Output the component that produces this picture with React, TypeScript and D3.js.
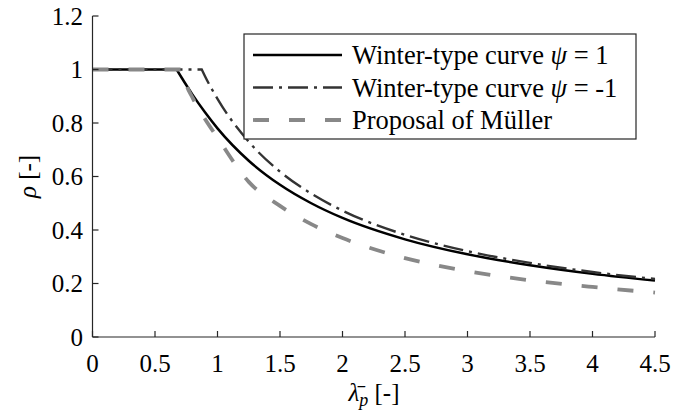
import React from "react";
import * as d3 from "d3";

// ---- data ----
const X_TICKS = [0, 0.5, 1, 1.5, 2, 2.5, 3, 3.5, 4, 4.5];
const X_TICK_LABELS = ["0", "0.5", "1", "1.5", "2", "2.5", "3", "3.5", "4", "4.5"];
const Y_TICKS = [0, 0.2, 0.4, 0.6, 0.8, 1, 1.2];
const Y_TICK_LABELS = ["0", "0.2", "0.4", "0.6", "0.8", "1", "1.2"];

// Winter-type curve psi = 1
const LAMBDA_W1 = [0, 0.673, 0.75, 0.8, 0.9, 1.0, 1.25, 1.5, 1.75, 2.0, 2.5, 3.0, 3.5, 4.0, 4.5];
const RHO_W1 = [1, 1, 0.942, 0.906, 0.84, 0.78, 0.659, 0.569, 0.5, 0.445, 0.365, 0.309, 0.268, 0.236, 0.211];

// Winter-type curve psi = -1
const LAMBDA_W2 = [0, 0.874, 0.9, 1.0, 1.25, 1.5, 1.75, 2.0, 2.5, 3.0, 3.5, 4.0, 4.5];
const RHO_W2 = [1, 1, 0.975, 0.89, 0.73, 0.618, 0.536, 0.4725, 0.382, 0.321, 0.277, 0.243, 0.217];

// Proposal of Müller
const LAMBDA_M = [0, 0.72, 0.75, 0.8, 0.9, 1.0, 1.25, 1.5, 1.75, 2.0, 2.5, 3.0, 3.5, 4.0, 4.5];
const RHO_M = [1, 1, 0.945, 0.895, 0.815, 0.745, 0.58, 0.49, 0.422, 0.37, 0.295, 0.246, 0.212, 0.187, 0.166];

const SERIES_NAMES = ["Winter-type curve ", "Winter-type curve ", "Proposal of Müller"];

const FONT = "'Liberation Serif', Tinos, 'Times New Roman', Times, 'DejaVu Serif', serif";
const AXIS_COLOR = "#262626";

export default function App() {
  const W = 686, H = 414;
  const x = d3.scaleLinear().domain([0, 4.5]).range([92.5, 655]);
  const y = d3.scaleLinear().domain([0, 1.2]).range([337, 16]);

  const makePath = (lx: number[], ry: number[]) => {
    const pts: [number, number][] = lx.map((v, i) => [x(v), y(ry[i])]);
    const gen = d3.line().curve(d3.curveMonotoneX);
    const rest = gen(pts.slice(1)) || "";
    return `M${pts[0][0]},${pts[0][1]}L` + rest.slice(1);
  };

  const series = [
    { d: makePath(LAMBDA_W1, RHO_W1), stroke: "#000", width: 2.5, dash: "none" },
    { d: makePath(LAMBDA_W2, RHO_W2), stroke: "#333", width: 2.4, dash: "20 6 3 6" },
    { d: makePath(LAMBDA_M, RHO_M), stroke: "#888", width: 3.8, dash: "16 20" },
  ];

  const legend = { x: 244, y: 34, w: 392, h: 105 };
  const rowY = [55, 87.5, 120];
  const txt = { fontFamily: FONT };

  return (
    <svg width={W} height={H} style={{ position: "absolute", left: 0, top: 0, background: "#fff", fontFamily: FONT }}>
      <rect x={0} y={0} width={W} height={H} fill="#fff" />
      {/* curves */}
      {series.map((s, i) => (
        <path key={i} d={s.d} fill="none" stroke={s.stroke} strokeWidth={s.width} strokeDasharray={s.dash} />
      ))}
      {/* axes */}
      <line x1={x(0)} x2={x(4.5)} y1={y(0)} y2={y(0)} stroke={AXIS_COLOR} strokeWidth={1.2} />
      <line x1={x(0)} x2={x(0)} y1={y(0)} y2={y(1.2)} stroke={AXIS_COLOR} strokeWidth={1.2} />
      {X_TICKS.map((t, i) => (
        <g key={"xt" + i}>
          <line x1={x(t)} x2={x(t)} y1={y(0)} y2={y(0) - 6} stroke={AXIS_COLOR} strokeWidth={1.2} />
          <text x={x(t)} y={372} textAnchor="middle" fontSize={25} fill="#000" style={txt}>{X_TICK_LABELS[i]}</text>
        </g>
      ))}
      {Y_TICKS.map((t, i) => (
        <g key={"yt" + i}>
          <line x1={x(0)} x2={x(0) + 6} y1={y(t)} y2={y(t)} stroke={AXIS_COLOR} strokeWidth={1.2} />
          <text x={83} y={y(t)} dy="0.35em" textAnchor="end" fontSize={25} fill="#000" style={txt}>{Y_TICK_LABELS[i]}</text>
        </g>
      ))}
      {/* axis labels */}
      <text x={374} y={401} textAnchor="middle" fontSize={25} fill="#000" style={txt}>
        <tspan fontStyle="italic">{"λ\u0304"}</tspan>
        <tspan fontStyle="italic" fontSize={18} dy={5}>p</tspan>
        <tspan dy={-5}>{"  [-]"}</tspan>
      </text>
      <text transform={`translate(36,${(y(0) + y(1.2)) / 2}) rotate(-90)`} textAnchor="middle" fontSize={25} fill="#000" style={txt}>
        <tspan fontStyle="italic">ρ</tspan>
        <tspan>{" [-]"}</tspan>
      </text>
      {/* legend */}
      <rect x={legend.x} y={legend.y} width={legend.w} height={legend.h} fill="#fff" stroke={AXIS_COLOR} strokeWidth={1.2} />
      {series.map((s, i) => (
        <g key={"lg" + i}>
          <line x1={253} x2={342} y1={rowY[i]} y2={rowY[i]} stroke={s.stroke} strokeWidth={s.width} strokeDasharray={s.dash} />
          <text x={352} y={rowY[i]} dy="0.35em" fontSize={26.5} fill="#000" style={txt}>
            {SERIES_NAMES[i]}
            {i === 0 && (<><tspan fontStyle="italic">ψ</tspan>{" = 1"}</>)}
            {i === 1 && (<><tspan fontStyle="italic">ψ</tspan>{" = -1"}</>)}
          </text>
        </g>
      ))}
    </svg>
  );
}
